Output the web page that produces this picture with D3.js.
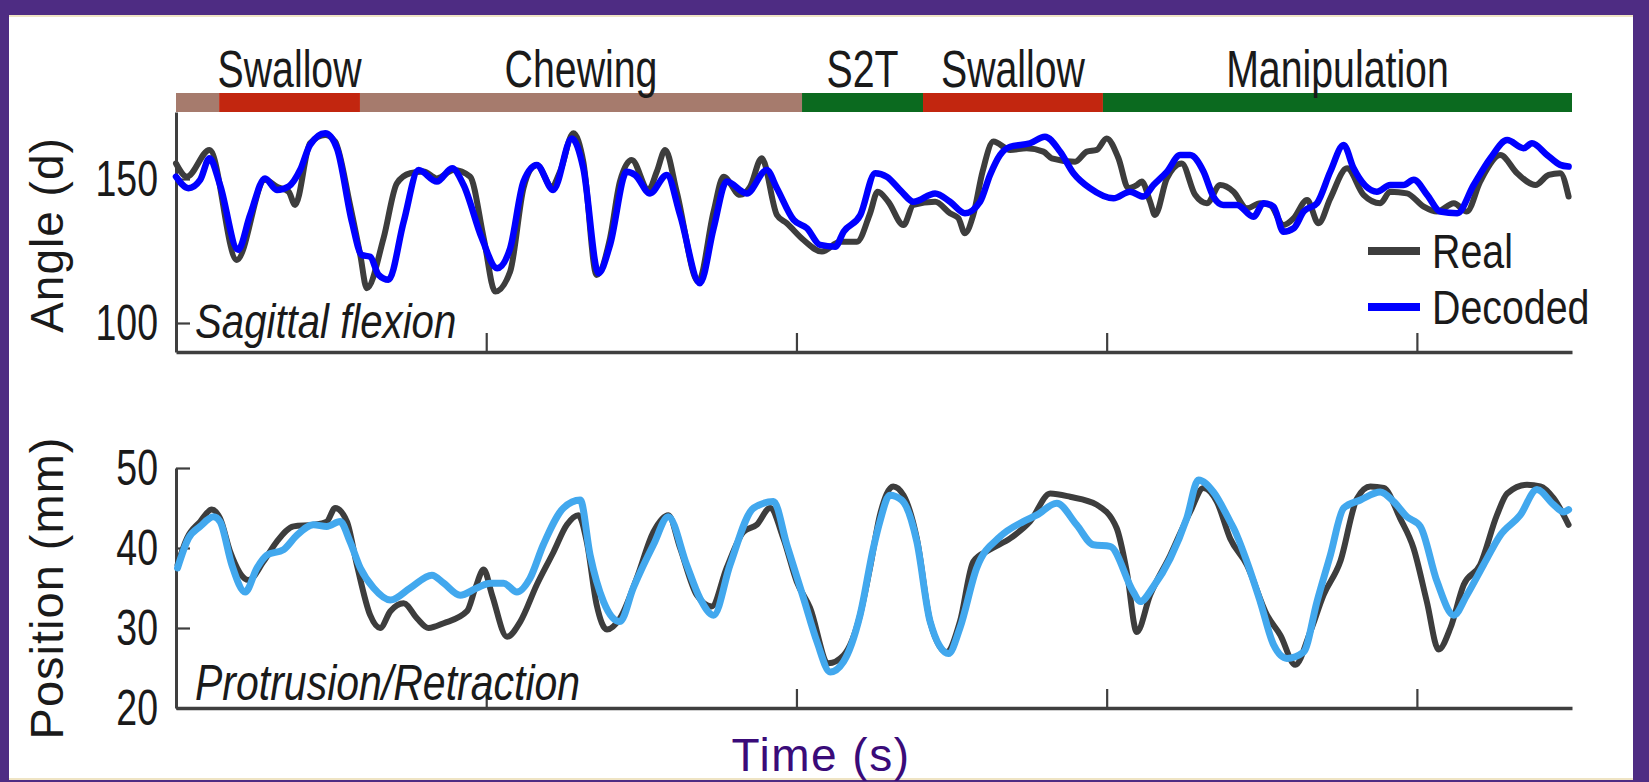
<!DOCTYPE html>
<html>
<head>
<meta charset="utf-8">
<script src="https://cdn.jsdelivr.net/npm/d3@7"></script>
<style>
  html, body { margin: 0; padding: 0; background: #fff; }
  svg { display: block; }
  text { font-family: "Liberation Sans", Arial, sans-serif; }
</style>
</head>
<body>
<svg id="chart" width="1649" height="782"></svg>
<script>
// ---------------- DATA ----------------
const phaseLabels = ["", "Swallow", "Chewing", "S2T", "Swallow", "Manipulation"];
const phaseStart  = [0, 0.139, 0.593, 2.018, 2.408, 2.988];
const phaseEnd    = [0.139, 0.593, 2.018, 2.408, 2.988, 4.5];
const phaseKind   = ["rest", "swallow", "rest", "transport", "swallow", "transport"];

const xTicks = [1, 2, 3, 4];
const topTicks = [100, 150];
const bottomTicks = [20, 30, 40, 50];

// Sagittal flexion (deg) – Real
const topRealT = [0,0.035,0.108,0.196,0.287,0.325,0.363,0.384,0.432,0.481,0.513,0.561,0.594,0.615,0.669,0.712,0.755,0.798,0.841,0.895,0.948,0.992,1.029,1.077,1.12,1.141,1.163,1.211,1.238,1.281,1.313,1.356,1.399,1.431,1.469,1.523,1.55,1.577,1.614,1.684,1.733,1.765,1.818,1.851,1.888,1.937,1.969,2.023,2.082,2.141,2.195,2.237,2.262,2.296,2.345,2.377,2.447,2.495,2.522,2.543,2.57,2.6,2.635,2.689,2.742,2.796,2.823,2.898,2.936,2.968,3.0,3.038,3.07,3.097,3.113,3.14,3.156,3.194,3.242,3.285,3.323,3.366,3.409,3.452,3.495,3.527,3.57,3.603,3.646,3.683,3.721,3.775,3.828,3.882,3.914,3.968,4.022,4.065,4.119,4.161,4.204,4.269,4.323,4.382,4.425,4.462,4.489];
const topRealV = [155.4,150.8,160.1,121.9,149.7,147.3,145.6,141,162.4,165.3,163,141,123.6,112.1,129.4,148.5,152,152.6,150.2,153.1,150.8,129.4,110.9,117.8,146.8,153.1,154.9,147.4,152.6,165.9,156,116.7,129.4,149.1,156.6,146.2,152.6,160.1,145.6,114.4,138.7,150.8,144.5,147.4,157.2,137.5,134.6,128.8,124.8,128.2,128.2,138,145.6,142.1,134,141,142.1,138.1,136.4,131.2,137.5,152.6,163,160.1,160.7,159.5,157.2,156,159.5,160.1,164.1,157.2,146.8,147.9,149.1,142.1,137.5,150.2,155.4,144.5,141.6,147.9,145.6,139.8,141.6,141,134,136.4,142.7,134.6,143.3,153.7,144.5,141.6,145.6,145,140.4,138.7,141.6,138.7,149.1,158.3,152,147.9,151.4,152,143.9];

// Sagittal flexion (deg) – Decoded
const topDecT = [0,0.04,0.078,0.108,0.142,0.2,0.239,0.287,0.325,0.363,0.4,0.432,0.481,0.519,0.567,0.599,0.626,0.653,0.685,0.734,0.782,0.841,0.89,0.927,0.986,1.035,1.077,1.12,1.163,1.216,1.276,1.313,1.362,1.399,1.453,1.48,1.528,1.582,1.625,1.689,1.733,1.775,1.84,1.904,1.937,1.991,2.034,2.076,2.125,2.152,2.206,2.254,2.291,2.339,2.377,2.447,2.495,2.543,2.592,2.624,2.656,2.689,2.753,2.801,2.85,2.893,2.946,3.022,3.075,3.118,3.151,3.194,3.237,3.269,3.312,3.344,3.376,3.42,3.473,3.506,3.538,3.57,3.603,3.635,3.678,3.721,3.764,3.796,3.871,3.914,3.957,3.99,4.033,4.075,4.13,4.183,4.237,4.291,4.344,4.371,4.42,4.462,4.489];
const topDecV = [150.8,146.8,149.7,157.2,147.9,125.4,137.5,150.2,146.2,147.4,153.1,161.8,165.9,160.6,135.2,123.6,123,116.7,115,135.2,153.1,149.1,153.7,147.9,129.4,119,125.9,149.1,154.9,146.2,164.1,153.7,117.3,127.1,152.5,151.4,145,151.4,137.5,113.8,132.9,149.1,145,153.1,146.8,135.8,132.9,127.1,126.5,131.7,137.5,152,150.8,145.6,142.1,145,142.1,138.1,142.1,151.4,158.3,161.2,162.4,164.7,159.5,152,146.8,143.3,145.6,143.9,147.9,152.5,158.3,158.3,152.6,143.9,141,141,136.9,141.6,140.4,131.7,132.9,138.7,141.6,152.6,161.8,153.7,145.6,147.9,147.9,149.7,144.5,138.7,138.1,147.9,157.2,163.5,160.7,162.4,158.3,154.9,154.3];

// Protrusion/Retraction (mm) – Real
const botRealT = [0.005,0.035,0.078,0.115,0.142,0.175,0.234,0.282,0.325,0.379,0.443,0.486,0.513,0.551,0.583,0.626,0.658,0.691,0.734,0.777,0.814,0.863,0.938,0.965,0.992,1.019,1.067,1.11,1.163,1.217,1.26,1.297,1.324,1.356,1.389,1.431,1.485,1.539,1.587,1.625,1.679,1.727,1.775,1.829,1.872,1.915,1.958,2.001,2.044,2.103,2.152,2.205,2.237,2.269,2.312,2.345,2.388,2.431,2.484,2.527,2.57,2.624,2.689,2.753,2.818,2.882,2.968,3.032,3.065,3.097,3.14,3.205,3.269,3.312,3.355,3.398,3.452,3.517,3.56,3.608,3.656,3.699,3.753,3.807,3.85,3.893,3.946,3.989,4.032,4.07,4.108,4.151,4.204,4.258,4.291,4.355,4.398,4.441,4.489];
const botRealV = [37.9,41.2,43.3,44.8,43.7,39.5,36,38.3,40.8,42.7,42.9,43.3,45,43.3,37.9,31.6,30,32.1,33.1,31.2,30,30.6,32.1,35,37.3,34.1,28.9,30.8,35.4,39.5,42.9,44.1,40.8,32.9,29.8,31.2,36.2,42,44.1,40,34.1,32.7,37.5,42,42.9,45,41.2,35.8,32.5,25.6,26.6,31.6,37.5,44.1,47.7,46.6,41.2,30.8,27,30.8,38.3,39.8,41.2,43.3,46.8,46.4,45.4,42.5,37,29.5,34.1,39.1,44.5,47.5,45.8,41.2,37.9,31.6,29.1,25.4,29.5,34.1,38.3,46.2,47.7,47.5,43.7,40,33.3,27.3,30,35.4,37.9,44.1,46.8,47.9,47.7,46.2,42.9];

// Protrusion/Retraction (mm) – Decoded
const botDecT = [0.005,0.04,0.078,0.121,0.142,0.18,0.223,0.261,0.293,0.347,0.39,0.443,0.486,0.529,0.561,0.594,0.637,0.691,0.755,0.825,0.863,0.916,0.97,1.013,1.056,1.099,1.141,1.184,1.249,1.303,1.335,1.378,1.431,1.474,1.539,1.587,1.646,1.689,1.733,1.786,1.862,1.926,1.969,2.023,2.066,2.109,2.152,2.205,2.248,2.269,2.301,2.339,2.388,2.431,2.49,2.527,2.581,2.656,2.731,2.774,2.839,2.903,2.957,3.011,3.086,3.108,3.151,3.205,3.258,3.296,3.344,3.398,3.409,3.452,3.495,3.538,3.581,3.635,3.678,3.721,3.764,3.818,3.882,3.925,3.968,4.011,4.065,4.119,4.161,4.215,4.269,4.333,4.387,4.441,4.473,4.489];
const botDecV = [37.5,41.2,42.7,43.9,43.3,37.9,34.5,37.5,39.1,39.8,41.6,42.9,42.7,43.3,40.8,37.5,35,33.5,35,36.6,35.6,34.1,35,35.6,35.6,34.5,36.2,40.4,45,46,39.1,33.3,30.8,35,40.4,43.9,37.9,33.7,31.6,37.9,45,45.8,40.4,33.7,28.3,24.5,25.8,31.6,40,43.3,46.6,46,40.8,30.8,26.8,30,37.5,41.4,43.3,44.1,45.6,42.9,40.4,40.2,34.5,33.3,35.2,38.7,43.7,48.5,47,43.3,42.5,38.3,33.3,27.9,26.2,27,33.3,39.1,45,46,47,45.8,43.9,42.7,35.8,31.6,34.1,37.9,41.6,44.1,47.3,45.4,44.5,44.8];

// ---------------- STYLE ----------------
const W = 1649, H = 782;
const phaseColor = { rest: "#A67B6D", swallow: "#C2260F", transport: "#0B6A1F" };
const realColor = "#3d3d3d";
const topDecColor = "#0000FF";
const botDecColor = "#42A8EE";
const axisColor = "#3f3f3f";
const NARROW = 0.82;

const svg = d3.select("#chart");

// frame
svg.append("rect").attr("x", 0).attr("y", 0).attr("width", W).attr("height", H).attr("fill", "#4E2C83");
svg.append("rect").attr("x", 9).attr("y", 15).attr("width", 1624).attr("height", 765).attr("fill", "#EFE4C4");
svg.append("rect").attr("x", 9).attr("y", 17).attr("width", 1624).attr("height", 761).attr("fill", "#ffffff");

// scales
const x = d3.scaleLinear().domain([0, 4.5]).range([176, 1572]);
const yTop = d3.scaleLinear().domain([89.93, 173.26]).range([352, 112]);
const yBot = d3.scaleLinear().domain([20, 50]).range([708, 468]);

function ntext(parent, px, py, str, size, anchor, italic, sx) {
  return parent.append("text")
    .attr("transform", `translate(${px},${py}) scale(${sx || NARROW},1)`)
    .attr("text-anchor", anchor)
    .style("font-size", size + "px")
    .style("font-style", italic ? "italic" : "normal")
    .attr("fill", "#1a1a1a")
    .text(str);
}

// phase bar
const phases = phaseStart.map((s, i) => ({ s, e: phaseEnd[i], label: phaseLabels[i], kind: phaseKind[i] }));
svg.append("g").selectAll("rect").data(phases).join("rect")
  .attr("x", d => x(d.s)).attr("width", d => x(d.e) - x(d.s))
  .attr("y", 93).attr("height", 19)
  .attr("fill", d => phaseColor[d.kind]);
const labG = svg.append("g");
phases.forEach(d => { if (d.label) ntext(labG, (x(d.s) + x(d.e)) / 2, 87, d.label, 51, "middle", false, 0.77); });

// axes helper
function drawAxes(yScale, ticks, xAxisY) {
  const gx = svg.append("g").attr("transform", `translate(0,${xAxisY})`)
    .call(d3.axisBottom(x).tickValues(xTicks).tickSize(-19).tickSizeOuter(0).tickFormat(""));
  gx.select(".domain").attr("stroke", axisColor).attr("stroke-width", 3.5);
  gx.selectAll(".tick line").attr("stroke", axisColor).attr("stroke-width", 2.2);

  const TS = 0.75;
  const gy = svg.append("g").attr("transform", `translate(${x(0)},0)`)
    .call(d3.axisLeft(yScale).tickValues(ticks).tickSize(-14).tickSizeOuter(0).tickPadding(18));
  gy.select(".domain").attr("stroke", axisColor).attr("stroke-width", 3);
  gy.selectAll(".tick line").attr("stroke", axisColor).attr("stroke-width", 2.2);
  gy.selectAll(".tick text")
    .attr("x", -18 / TS)
    .attr("transform", `scale(${TS},1)`)
    .attr("fill", "#1a1a1a")
    .style("font-size", "50px")
    .style("font-family", "'Liberation Sans', Arial, sans-serif");
}
drawAxes(yTop, topTicks, 352);
drawAxes(yBot, bottomTicks, 708);

// lines
function drawLine(ts, vs, yScale, color, width) {
  const pts = ts.map((t, i) => [t, vs[i]]);
  const line = d3.line().x(d => x(d[0])).y(d => yScale(d[1])).curve(d3.curveMonotoneX);
  svg.append("path").datum(pts).attr("d", line)
    .attr("fill", "none").attr("stroke", color).attr("stroke-width", width)
    .attr("stroke-linejoin", "round").attr("stroke-linecap", "round");
}
drawLine(topRealT, topRealV, yTop, realColor, 6);
drawLine(topDecT, topDecV, yTop, topDecColor, 6.5);
drawLine(botRealT, botRealV, yBot, realColor, 6);
drawLine(botDecT, botDecV, yBot, botDecColor, 7);

// annotations
const annG = svg.append("g");
ntext(annG, 195, 338, "Sagittal flexion", 49, "start", true);
ntext(annG, 195, 700, "Protrusion/Retraction", 50, "start", true);

// legend
const legG = svg.append("g");
legG.append("line").attr("x1", 1368).attr("x2", 1420).attr("y1", 251).attr("y2", 251).attr("stroke", realColor).attr("stroke-width", 8);
legG.append("line").attr("x1", 1368).attr("x2", 1420).attr("y1", 307).attr("y2", 307).attr("stroke", topDecColor).attr("stroke-width", 8);
ntext(legG, 1432, 268, "Real", 48, "start", false);
ntext(legG, 1432, 324, "Decoded", 48, "start", false);

// axis titles
svg.append("text").attr("transform", "translate(63,235) rotate(-90)")
  .attr("text-anchor", "middle").style("font-size", "46px").attr("fill", "#1a1a1a")
  .style("letter-spacing", "1px").text("Angle (d)");
svg.append("text").attr("transform", "translate(63,588) rotate(-90)")
  .attr("text-anchor", "middle").style("font-size", "47px").attr("fill", "#1a1a1a")
  .style("letter-spacing", "1px").text("Position (mm)");
svg.append("text").attr("x", 821).attr("y", 771)
  .attr("text-anchor", "middle").style("font-size", "46px").attr("fill", "#3A0B79")
  .style("letter-spacing", "1.5px")
  .text("Time (s)");
</script>
</body>
</html>
